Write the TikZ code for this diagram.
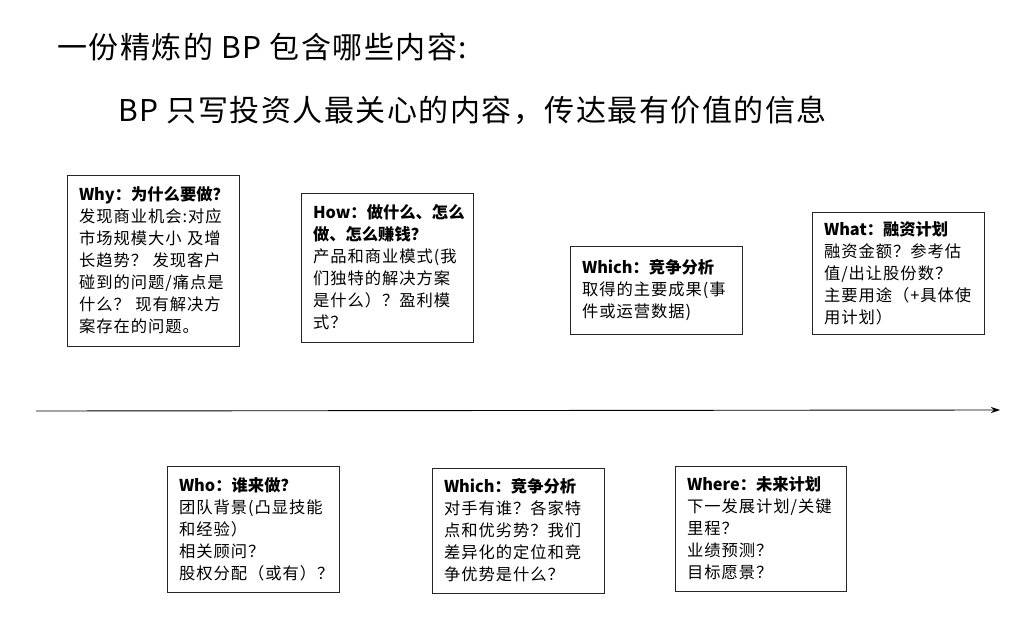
\documentclass[tikz,border=0pt]{standalone}
\usepackage{fontspec}
\setmainfont{Noto Sans CJK SC}
\newfontfamily\spacedfont[LetterSpace=6]{Noto Sans CJK SC}
\newfontfamily\plainfont{Noto Sans CJK SC}
\newfontfamily\titlefont[LetterSpace=5]{Noto Sans CJK SC}
\newcommand{\hd}[1]{{\plainfont\bfseries #1}}
\usetikzlibrary{arrows.meta}
\tikzset{
  card/.style={draw=black!85, line width=0.9pt, align=left, inner xsep=12pt, inner ysep=4pt,
    font=\spacedfont\fontsize{16.3}{22}\selectfont, text width=148pt},
  ttl/.style={anchor=west, inner sep=0pt, font=\titlefont\fontsize{30}{34}\selectfont}
}
\begin{document}
\begin{tikzpicture}[x=1pt,y=-1pt]
\useasboundingbox (0,0) rectangle (1024,620);
\node[ttl] (t1) at (57,47) {一份精炼的 BP 包含哪些内容:};
\node[ttl] (t2) at (118,110) {BP 只写投资人最关心的内容，传达最有价值的信息};

\node[card, minimum height=171pt] (why) at (153,260.5) {\hd{Why：为什么要做？}\\发现商业机会:对应\\市场规模大小 及增\\长趋势？ 发现客户\\碰到的问题/痛点是\\什么？ 现有解决方\\案存在的问题。};
\node[card, minimum height=149pt] (how) at (387,267.5) {\hd{How：做什么、怎么}\\\hd{做、怎么赚钱？}\\产品和商业模式(我\\们独特的解决方案\\是什么）？盈利模\\式？};
\node[card, minimum height=88pt] (which1) at (656,290) {\hd{Which：竞争分析}\\取得的主要成果(事\\件或运营数据)};
\node[card, minimum height=122pt] (what) at (898,273) {\hd{What：融资计划}\\融资金额？参考估\\值/出让股份数？\\主要用途（+具体使\\用计划）};

\node[card, minimum height=126pt] (who) at (253,529) {\hd{Who：谁来做？}\\团队背景(凸显技能\\和经验）\\相关顾问？\\股权分配（或有）？};
\node[card, minimum height=125pt] (which2) at (518,530.5) {\hd{Which：竞争分析}\\对手有谁？各家特\\点和优劣势？我们\\差异化的定位和竞\\争优势是什么？};
\node[card, minimum height=125pt, text width=147pt] (where) at (760.5,528.5) {\hd{Where：未来计划}\\下一发展计划/关键\\里程？\\业绩预测？\\目标愿景？};

\coordinate (a0) at (36,411);
\coordinate (a1) at (1000,410);
\draw[line width=0.9pt, -{Stealth[length=9pt,width=6pt]}] (a0) -- (a1);
\end{tikzpicture}
\end{document}
